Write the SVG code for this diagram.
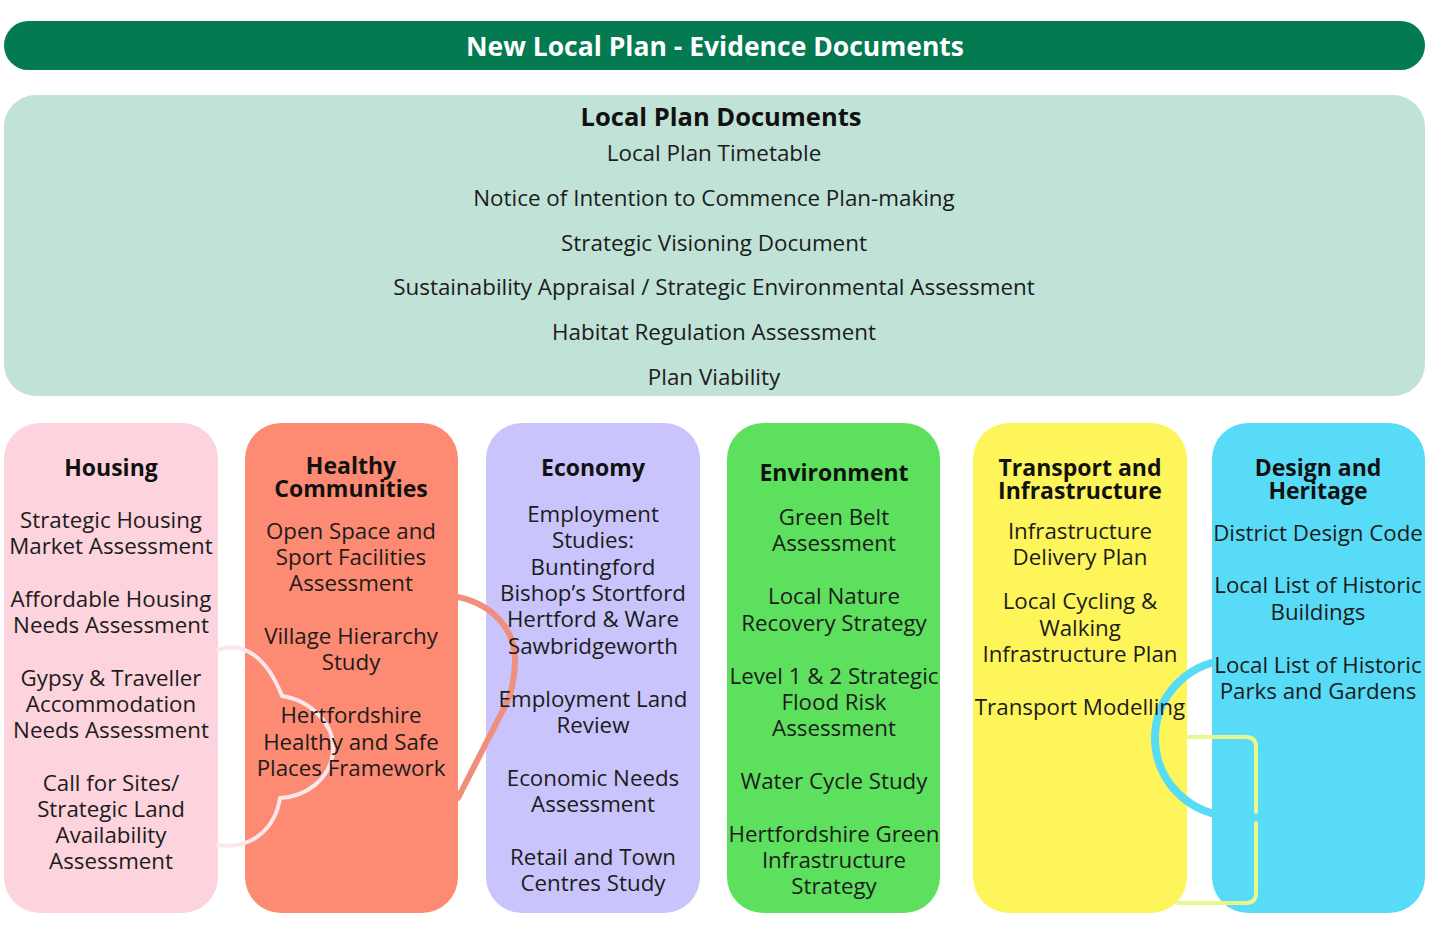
<svg xmlns="http://www.w3.org/2000/svg" width="1451" height="929" viewBox="0 0 1451 929">
<style>
text{font-family:"Open Sans","Noto Sans","Liberation Sans",sans-serif;text-anchor:middle;fill:#1c1c1c}
.t{font-size:22.3px}
.h{font-size:23px;font-weight:bold;fill:#111}
.lp{font-size:22.4px}
.con{fill:none;stroke-linecap:round;stroke-linejoin:round}
</style>
<rect width="1451" height="929" fill="#ffffff"/>
<g id="title">
<rect x="4" y="21" width="1421" height="49" rx="24.5" fill="#037a50"/>
<text x="715" y="56" style="font-size:26.5px;font-weight:bold;fill:#ffffff">New Local Plan - Evidence Documents</text>
</g>
<g id="local-plan-documents">
<rect x="4" y="95" width="1421" height="301" rx="32" fill="#c0e2d7"/>
<text x="721" y="126" class="h" style="font-size:25.5px">Local Plan Documents</text>
<text x="714" y="161" class="lp">Local Plan Timetable</text>
<text x="714" y="206" class="lp">Notice of Intention to Commence Plan-making</text>
<text x="714" y="251" class="lp">Strategic Visioning Document</text>
<text x="714" y="295" class="lp">Sustainability Appraisal / Strategic Environmental Assessment</text>
<text x="714" y="340" class="lp">Habitat Regulation Assessment</text>
<text x="714" y="385" class="lp">Plan Viability</text>
</g>
<g id="housing">
<rect x="4" y="423" width="214" height="490" rx="36" fill="#fdd3dd"/>
</g>
<g id="healthy-communities">
<rect x="245" y="423" width="213" height="490" rx="36" fill="#fd8a72"/>
</g>
<g id="economy">
<rect x="486" y="423" width="214" height="490" rx="36" fill="#c9c4fb"/>
</g>
<g id="environment">
<rect x="727" y="423" width="213" height="490" rx="36" fill="#5de05d"/>
</g>
<g id="transport-infrastructure">
<rect x="973" y="423" width="214" height="490" rx="36" fill="#fdf55a"/>
</g>
<g id="design-heritage">
<rect x="1212" y="423" width="213" height="490" rx="36" fill="#58dbf7"/>
</g>
<g id="connectors">
<path class="con" stroke="#fde6ec" stroke-width="4" d="M218,650 C245,640 268,660 282,696 C310,700 336,725 333,752 C330,780 305,797 280,798 C275,830 250,850 218,845"/>
<path class="con" stroke="#f0907c" stroke-width="6" d="M458,597 C495,605 516,632 515,662 C514,690 507,703 502,712 L458,798"/>
<path class="con" stroke="#58dbf7" stroke-width="8" d="M1233,660 A78,78 0 0 0 1233,816"/>
<path class="con" stroke="#e8f88a" stroke-width="4" d="M1187,737 L1246,737 Q1256,737 1256,747 L1256,812 M1256,823 L1256,893 Q1256,903 1246,903 L1178,903"/>
</g>
<g id="housing-label">
<text x="111" y="476" class="h">Housing</text>
<text x="111" y="528" class="t">Strategic Housing</text>
<text x="111" y="554" class="t">Market Assessment</text>
<text x="111" y="607" class="t">Affordable Housing</text>
<text x="111" y="633" class="t">Needs Assessment</text>
<text x="111" y="686" class="t">Gypsy &amp; Traveller</text>
<text x="111" y="712" class="t">Accommodation</text>
<text x="111" y="738" class="t">Needs Assessment</text>
<text x="111" y="791" class="t">Call for Sites/</text>
<text x="111" y="817" class="t">Strategic Land</text>
<text x="111" y="843" class="t">Availability</text>
<text x="111" y="869" class="t">Assessment</text>
</g>
<g id="healthy-communities-label">
<text x="351" y="474" class="h">Healthy</text>
<text x="351" y="497" class="h">Communities</text>
<text x="351" y="539" class="t">Open Space and</text>
<text x="351" y="565" class="t">Sport Facilities</text>
<text x="351" y="591" class="t">Assessment</text>
<text x="351" y="644" class="t">Village Hierarchy</text>
<text x="351" y="670" class="t">Study</text>
<text x="351" y="723" class="t">Hertfordshire</text>
<text x="351" y="750" class="t">Healthy and Safe</text>
<text x="351" y="776" class="t">Places Framework</text>
</g>
<g id="economy-label">
<text x="593" y="476" class="h">Economy</text>
<text x="593" y="522" class="t">Employment</text>
<text x="593" y="548" class="t">Studies:</text>
<text x="593" y="575" class="t">Buntingford</text>
<text x="593" y="601" class="t">Bishop’s Stortford</text>
<text x="593" y="627" class="t">Hertford &amp; Ware</text>
<text x="593" y="654" class="t">Sawbridgeworth</text>
<text x="593" y="707" class="t">Employment Land</text>
<text x="593" y="733" class="t">Review</text>
<text x="593" y="786" class="t">Economic Needs</text>
<text x="593" y="812" class="t">Assessment</text>
<text x="593" y="865" class="t">Retail and Town</text>
<text x="593" y="891" class="t">Centres Study</text>
</g>
<g id="environment-label">
<text x="834" y="481" class="h">Environment</text>
<text x="834" y="525" class="t">Green Belt</text>
<text x="834" y="551" class="t">Assessment</text>
<text x="834" y="604" class="t">Local Nature</text>
<text x="834" y="631" class="t">Recovery Strategy</text>
<text x="834" y="684" class="t">Level 1 &amp; 2 Strategic</text>
<text x="834" y="710" class="t">Flood Risk</text>
<text x="834" y="736" class="t">Assessment</text>
<text x="834" y="789" class="t">Water Cycle Study</text>
<text x="834" y="842" class="t">Hertfordshire Green</text>
<text x="834" y="868" class="t">Infrastructure</text>
<text x="834" y="894" class="t">Strategy</text>
</g>
<g id="transport-infrastructure-label">
<text x="1080" y="476" class="h">Transport and</text>
<text x="1080" y="499" class="h">Infrastructure</text>
<text x="1080" y="539" class="t">Infrastructure</text>
<text x="1080" y="565" class="t">Delivery Plan</text>
<text x="1080" y="609" class="t">Local Cycling &amp;</text>
<text x="1080" y="636" class="t">Walking</text>
<text x="1080" y="662" class="t">Infrastructure Plan</text>
<text x="1080" y="715" class="t">Transport Modelling</text>
</g>
<g id="design-heritage-label">
<text x="1318" y="476" class="h">Design and</text>
<text x="1318" y="499" class="h">Heritage</text>
<text x="1318" y="541" class="t">District Design Code</text>
<text x="1318" y="593" class="t">Local List of Historic</text>
<text x="1318" y="620" class="t">Buildings</text>
<text x="1318" y="673" class="t">Local List of Historic</text>
<text x="1318" y="699" class="t">Parks and Gardens</text>
</g>
</svg>
